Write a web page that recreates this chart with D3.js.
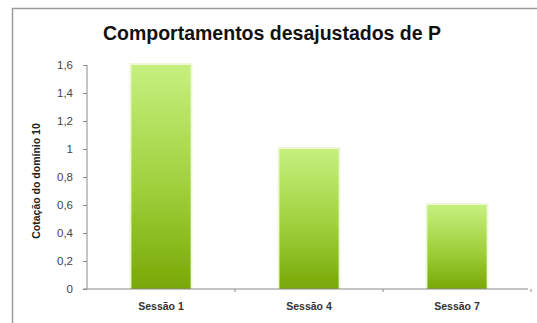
<!DOCTYPE html>
<html>
<head>
<meta charset="utf-8">
<script src="https://cdn.jsdelivr.net/npm/d3@7"></script>
<style>
  html, body { margin: 0; padding: 0; background: #fff; }
  svg { display: block; font-family: "Liberation Sans", Arial, sans-serif; }
</style>
</head>
<body>
<svg id="chart" width="537" height="323"></svg>
<script>
// Chart data
const categories = ["Sessão 1", "Sessão 4", "Sessão 7"];
const values = [1.6, 1.0, 0.6];
const yTicks = [0, 0.2, 0.4, 0.6, 0.8, 1.0, 1.2, 1.4, 1.6];
const titleText = "Comportamentos desajustados de P";
const yTitle = "Cotação do domínio 10";

const svg = d3.select("#chart");
const W = 537, H = 323;

// Outer chart frame (extends past the right and bottom edges)
svg.append("rect")
  .attr("x", 12.5).attr("y", 8.5)
  .attr("width", W + 20).attr("height", H + 20)
  .attr("fill", "#fff").attr("stroke", "#9a9a9a").attr("stroke-width", 1.5);

// Title
svg.append("text")
  .attr("x", 272).attr("y", 40)
  .attr("text-anchor", "middle")
  .attr("font-size", 19.5).attr("font-weight", "bold").attr("fill", "#111")
  .text(titleText);

const plot = { left: 87, right: 531, top: 65, bottom: 289 };

const x = d3.scaleBand()
  .domain(categories)
  .range([plot.left, plot.right])
  .paddingInner(0.6)
  .paddingOuter(0.3);

const y = d3.scaleLinear()
  .domain([0, 1.6])
  .range([plot.bottom, plot.top]);

// Bar gradient: light green at top, deeper green at the base
const defs = svg.append("defs");
const grad = defs.append("linearGradient")
  .attr("id", "barGrad").attr("x1", 0).attr("y1", 0).attr("x2", 0).attr("y2", 1);
grad.append("stop").attr("offset", "0%").attr("stop-color", "#c6f07e");
grad.append("stop").attr("offset", "55%").attr("stop-color", "#9fd03c");
grad.append("stop").attr("offset", "100%").attr("stop-color", "#78a806");

const glow = defs.append("filter").attr("id", "soft")
  .attr("x", "-10%").attr("y", "-10%").attr("width", "120%").attr("height", "120%");
glow.append("feGaussianBlur").attr("stdDeviation", 0.6);

// Faint halo behind each bar
svg.append("g").selectAll("rect")
  .data(values)
  .join("rect")
  .attr("x", (d, i) => x(categories[i]) - 2)
  .attr("y", d => y(d) - 2)
  .attr("width", x.bandwidth() + 4)
  .attr("height", d => plot.bottom - y(d) + 2)
  .attr("fill", "#eef8d8")
  .attr("filter", "url(#soft)");

svg.append("g").selectAll("rect")
  .data(values)
  .join("rect")
  .attr("x", (d, i) => x(categories[i]))
  .attr("y", d => y(d))
  .attr("width", x.bandwidth())
  .attr("height", d => plot.bottom - y(d))
  .attr("fill", "url(#barGrad)")
  .attr("filter", "url(#soft)");

// Y axis
const yAxis = svg.append("g")
  .attr("transform", `translate(${plot.left},0)`)
  .call(d3.axisLeft(y)
    .tickValues(yTicks)
    .tickSize(4)
    .tickPadding(10)
    .tickFormat(d => d3.format("~g")(d).replace(".", ",")));
yAxis.select(".domain").attr("stroke", "#8a8a8a").attr("d", `M0,${plot.top}V${plot.bottom}`);
yAxis.selectAll(".tick line").attr("stroke", "#8a8a8a");
yAxis.selectAll(".tick text")
  .attr("font-size", 11.5).attr("fill", "#444")
  .attr("font-family", "Liberation Sans, Arial, sans-serif");

// X axis
const xAxis = svg.append("g")
  .attr("transform", `translate(0,${plot.bottom})`)
  .call(d3.axisBottom(x).tickSize(0).tickPadding(14));
xAxis.select(".domain").attr("stroke", "#8a8a8a")
  .attr("d", `M${plot.left - 4},0H${plot.right - 3}`);
xAxis.selectAll(".tick text")
  .attr("font-size", 10.5).attr("font-weight", "bold").attr("fill", "#333")
  .attr("font-family", "Liberation Sans, Arial, sans-serif");

// Category separators on the x axis
const step = x.step();
const seps = d3.range(1, categories.length + 1).map(i => x(categories[i - 1]) + x.bandwidth() + step * x.paddingInner() / 2);
xAxis.selectAll(".sep")
  .data(seps)
  .join("line")
  .attr("class", "sep")
  .attr("x1", d => d).attr("x2", d => d)
  .attr("y1", 0).attr("y2", 3)
  .attr("stroke", "#8a8a8a");

// Y axis title
svg.append("text")
  .attr("transform", `translate(40,${(plot.top + plot.bottom) / 2 + 4}) rotate(-90)`)
  .attr("text-anchor", "middle")
  .attr("font-size", 10.5).attr("font-weight", "bold").attr("fill", "#222")
  .text(yTitle);
</script>
</body>
</html>
